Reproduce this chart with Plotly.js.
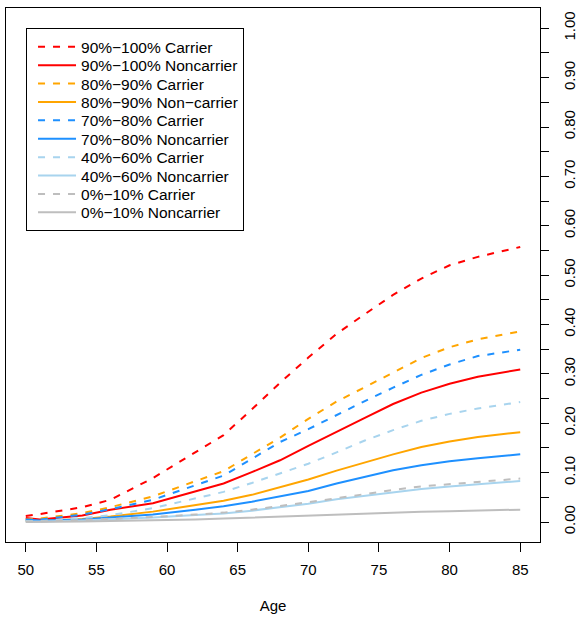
<!DOCTYPE html>
<html>
<head>
<meta charset="utf-8">
<script src="https://cdn.plot.ly/plotly-3.0.1.min.js"></script>
<style>
body{margin:0;padding:0;background:#fff}
#chart{width:579px;height:617px}
</style>
</head>
<body>
<div id="chart"></div>
<script>
var ages = [50, 51, 54, 56, 59, 62, 64, 66, 68, 70, 72, 74, 76, 78, 80, 82, 85];

var c90_100 = [0.012, 0.016, 0.030, 0.045, 0.089, 0.142, 0.176, 0.228, 0.282, 0.333, 0.381, 0.421, 0.460, 0.493, 0.520, 0.537, 0.557];
var n90_100 = [0.008, 0.005, 0.013, 0.025, 0.038, 0.062, 0.078, 0.101, 0.125, 0.154, 0.183, 0.211, 0.239, 0.262, 0.280, 0.294, 0.309];
var c80_90  = [0.005, 0.007, 0.018, 0.030, 0.052, 0.083, 0.103, 0.137, 0.171, 0.209, 0.244, 0.273, 0.303, 0.332, 0.354, 0.370, 0.386];
var n80_90  = [0.002, 0.002, 0.006, 0.011, 0.021, 0.034, 0.043, 0.055, 0.070, 0.086, 0.104, 0.121, 0.137, 0.152, 0.163, 0.172, 0.182];
var c70_80  = [0.004, 0.005, 0.015, 0.026, 0.045, 0.075, 0.094, 0.128, 0.162, 0.188, 0.217, 0.245, 0.272, 0.298, 0.319, 0.336, 0.349];
var n70_80  = [0.005, 0.003, 0.005, 0.009, 0.015, 0.025, 0.032, 0.041, 0.052, 0.063, 0.078, 0.092, 0.105, 0.115, 0.123, 0.129, 0.137];
var c40_60  = [0.002, 0.002, 0.008, 0.014, 0.028, 0.048, 0.061, 0.079, 0.098, 0.118, 0.141, 0.165, 0.186, 0.205, 0.219, 0.230, 0.243];
var n40_60  = [0.001, 0.001, 0.003, 0.005, 0.009, 0.014, 0.017, 0.023, 0.030, 0.037, 0.046, 0.053, 0.061, 0.067, 0.072, 0.077, 0.083];
var c0_10   = [0.001, 0.001, 0.004, 0.006, 0.010, 0.015, 0.019, 0.025, 0.032, 0.040, 0.048, 0.057, 0.065, 0.072, 0.077, 0.082, 0.088];
var n0_10   = [0.000, 0.000, 0.001, 0.002, 0.003, 0.005, 0.007, 0.009, 0.011, 0.013, 0.016, 0.018, 0.020, 0.021, 0.022, 0.023, 0.025];

var seriesNames = ["90%\u2212100% Carrier", "90%\u2212100% Noncarrier", "80%\u221290% Carrier", "80%\u221290% Non\u2212carrier",
                   "70%\u221280% Carrier", "70%\u221280% Noncarrier", "40%\u221260% Carrier", "40%\u221260% Noncarrier",
                   "0%\u221210% Carrier", "0%\u221210% Noncarrier"];
var seriesValues = [c90_100, n90_100, c80_90, n80_90, c70_80, n70_80, c40_60, n40_60, c0_10, n0_10];
var seriesColors = ["#FF0000", "#FF0000", "#FFA500", "#FFA500", "#1E90FF", "#1E90FF", "#A8D4EE", "#A8D4EE", "#BEBEBE", "#BEBEBE"];
var seriesDash = ["7px,8px", "solid", "7px,8px", "solid", "7px,8px", "solid", "7px,8px", "solid", "7px,8px", "solid"];

var xTicks = [50, 55, 60, 65, 70, 75, 80, 85];
var yTickVals = [];
var yTickText = [];
for (var i = 0; i <= 20; i++) {
  var v = i * 0.05;
  yTickVals.push(v);
  yTickText.push(i % 2 === 0 ? v.toFixed(2) : "");
}

var traces = seriesNames.map(function (n, k) {
  return {
    x: ages, y: seriesValues[k], name: n, type: "scatter", mode: "lines",
    line: {color: seriesColors[k], width: 2, dash: seriesDash[k]}
  };
});

var font = {family: "Liberation Sans, Arial, Helvetica, sans-serif", size: 15, color: "#000"};

var layout = {
  width: 579, height: 617,
  margin: {l: 6, r: 39, t: 8, b: 75, pad: 0},
  paper_bgcolor: "#fff", plot_bgcolor: "#fff",
  font: font,
  showlegend: true,
  legend: {
    x: 0.0375, y: 0.9625, xanchor: "left", yanchor: "top",
    bgcolor: "#fff", bordercolor: "#000", borderwidth: 1,
    indentation: 6, itemwidth: 38,
    font: {family: font.family, size: 15.5, color: "#000"}
  },
  xaxis: {
    range: [48.6, 86.4], tickvals: xTicks, ticktext: xTicks.map(String),
    showgrid: false, zeroline: false, showline: true, mirror: true, linecolor: "#000", linewidth: 1,
    ticks: "outside", ticklen: 9, tickcolor: "#000", tickwidth: 1, ticklabelstandoff: 5,
    title: {text: "Age", font: font, standoff: 23},
    automargin: false
  },
  yaxis: {
    range: [-0.0405, 1.041], side: "right", tickvals: yTickVals, ticktext: yTickText,
    tickangle: -90,
    showgrid: false, zeroline: false, showline: true, mirror: true, linecolor: "#000", linewidth: 1,
    ticks: "outside", ticklen: 8, tickcolor: "#000", tickwidth: 1, ticklabelstandoff: 8,
    automargin: false
  }
};

// Tighten the legend row spacing to match the reference (18.4 px per row)
function tightenLegend(gd) {
  var leg = gd.querySelector(".legend");
  if (!leg) return;
  var items = leg.querySelectorAll(".traces");
  var rowGap = 18.4, firstRow = 18.7;
  items.forEach(function (el, idx) {
    var t = el.getAttribute("transform") || "";
    var m = /translate\(\s*([-\d.]+)[ ,]+([-\d.]+)\s*\)/.exec(t);
    var x = m ? parseFloat(m[1]) : 1;
    el.setAttribute("transform", "translate(" + x + "," + (firstRow + idx * rowGap) + ")");
  });
  var bg = leg.querySelector("rect.bg");
  if (bg) bg.setAttribute("height", String(firstRow * 2 + (items.length - 1) * rowGap - 1));
}

var gd = document.getElementById("chart");
Plotly.newPlot(gd, traces, layout, {staticPlot: true, displayModeBar: false}).then(function () {
  tightenLegend(gd);
});
</script>
</body>
</html>
